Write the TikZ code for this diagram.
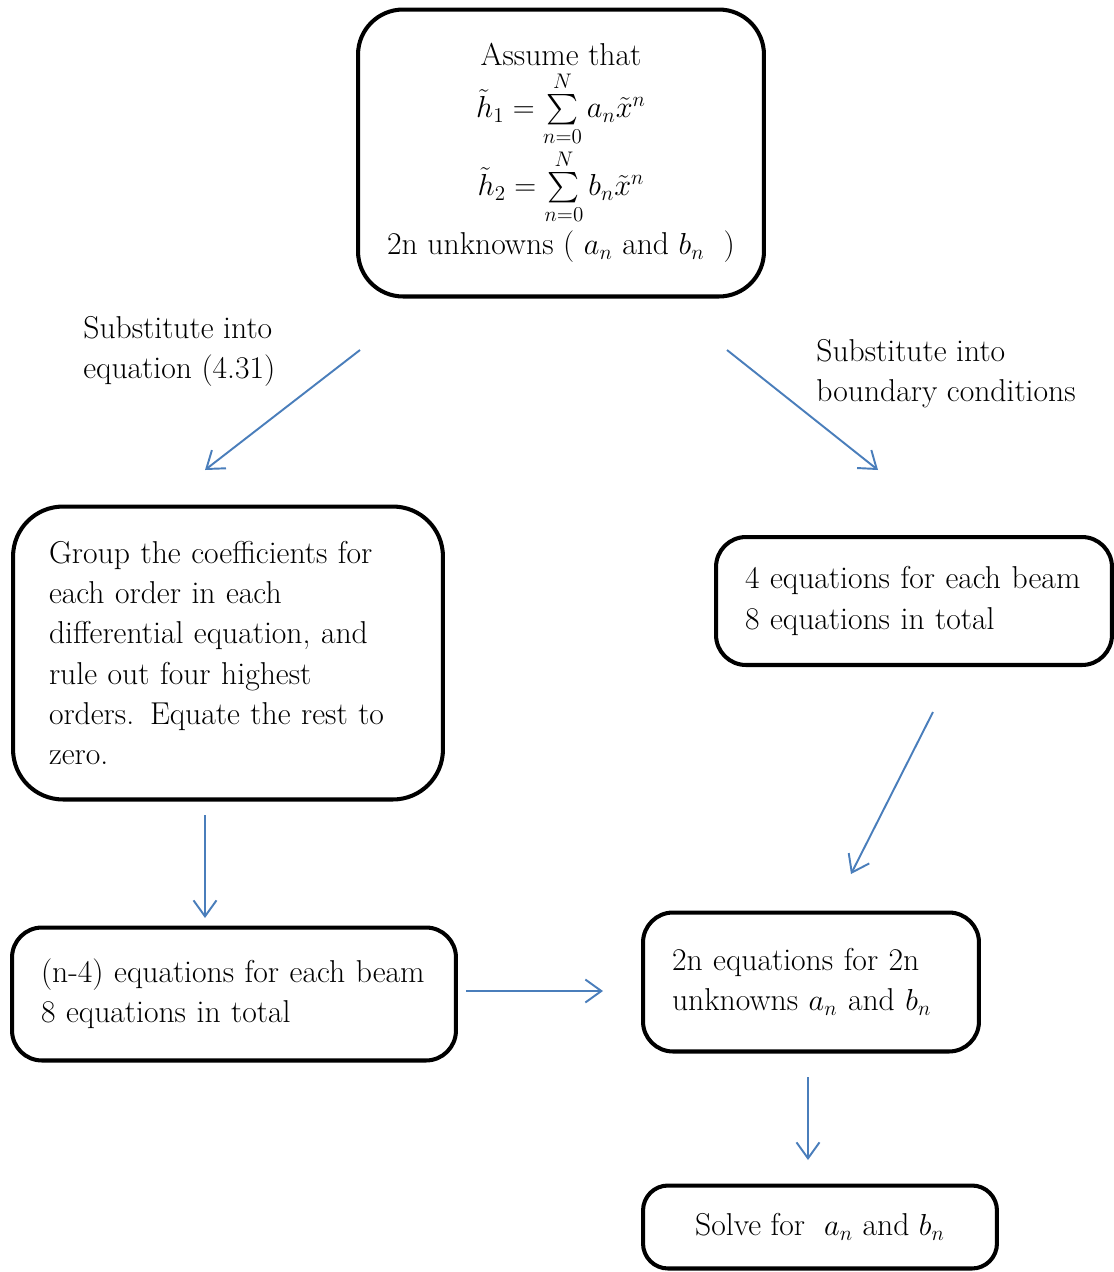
\documentclass[tikz,border=0pt]{standalone}
\usepackage{amsmath}
\usepackage{xcolor}
\usetikzlibrary{positioning}
\usetikzlibrary{arrows.meta}
\usetikzlibrary{calc}

\definecolor{arrowblue}{HTML}{4A7EBB}

\begin{document}
\begin{tikzpicture}[x=0.02cm,y=-0.02cm,>={Straight Barb[length=3.2mm,width=4.6mm]},
                    box node/.style={rectangle,draw,line width=2.3pt,font=\fontsize{18}{22.8}\selectfont},
                    text node/.style={font=\fontsize{18}{22.8}\selectfont,align=left,inner sep=0pt},
                    flow/.style={->,draw=arrowblue,line width=1.1pt}]
\useasboundingbox (0,0) rectangle (1114,1272);

% top box and its lines
\node[box node, rounded corners=0.9cm, minimum width=8.12cm, minimum height=5.74cm] (assume) at (561,153) {};
\node[text node] (assume1) at (561,54) {Assume that};
\node[text node] (assume2) at (561,109) {$\tilde{h}_1 = \sum\limits_{n=0}^{N} a_n \tilde{x}^n$};
\node[text node] (assume3) at (561,187) {$\tilde{h}_2 = \sum\limits_{n=0}^{N} b_n \tilde{x}^n$};
\node[text node] (assume4) at (561,247) {2n unknowns ( $a_n$ and $b_n$ \ )};

\node[box node, rounded corners=1cm, minimum width=8.6cm, minimum height=5.86cm, text width=7.16cm, align=left] (group) at (228,653)
  {Group the coefficients for\\ each order in each\\ differential equation, and\\ rule out four highest\\ orders. Equate the rest to\\ zero.};
\node[box node, rounded corners=0.6cm, minimum width=7.92cm, minimum height=2.56cm, text width=6.76cm, align=left] (bc) at (914,601)
  {4 equations for each beam\\ 8 equations in total};
\node[box node, rounded corners=0.6cm, minimum width=8.88cm, minimum height=2.66cm, text width=7.72cm, align=left] (eqn) at (234,994)
  {(n-4) equations for each beam\\ 8 equations in total};
\node[box node, rounded corners=0.6cm, minimum width=6.72cm, minimum height=2.78cm, text width=5.56cm, align=left] (eqs) at (811,982)
  {2n equations for 2n\\ unknowns $a_n$ and $b_n$};
\node[box node, rounded corners=0.5cm, minimum width=7.08cm, minimum height=1.66cm, align=center] (solve) at (820,1227)
  {Solve for \ $a_n$ and $b_n$};

\node[text node, anchor=west] (sub1) at (83,351) {Substitute into\\ equation (4.31)};
\node[text node, anchor=west] (sub2) at (816,374) {Substitute into\\ boundary conditions};

\coordinate (s1) at (360,350);
\coordinate (e1) at (205,470);
\coordinate (s2) at (727,350);
\coordinate (e2) at (878,470);
\coordinate (s3) at (933,712);
\coordinate (e3) at (851,874);
\coordinate (s4) at (205,815);
\coordinate (e4) at (205,918);
\coordinate (s5) at (466,991);
\coordinate (e5) at (603,991);
\coordinate (s6) at (808,1077);
\coordinate (e6) at (808,1160);

\draw[flow] (s1) -- (e1);
\draw[flow] (s2) -- (e2);
\draw[flow] (s3) -- (e3);
\draw[flow] (s4) -- (e4);
\draw[flow] (s5) -- (e5);
\draw[flow] (s6) -- (e6);

\end{tikzpicture}
\end{document}
